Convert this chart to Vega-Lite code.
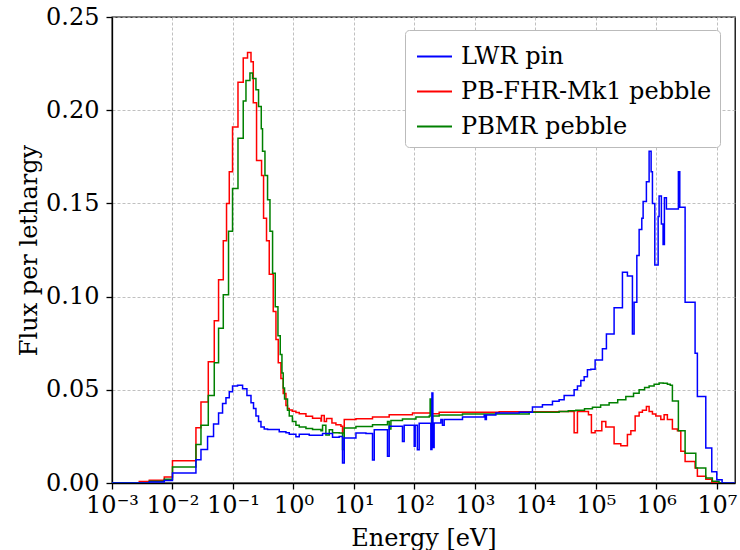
{
 "$schema": "https://vega.github.io/schema/vega-lite/v6.json",
 "width": 623, "height": 466,
 "autosize": "none",
 "padding": {"left": 112, "top": 17, "right": 5, "bottom": 67},
 "background": "white",
 "config": {
   "font": "DejaVu Serif",
   "view": {"stroke": "black", "strokeWidth": 1.3},
   "axis": {"domainColor": "black", "domainWidth": 1.3, "tickColor": "black", "tickWidth": 1.3, "tickSize": 6,
     "labelFont": "DejaVu Serif", "labelFontSize": 24, "labelColor": "black",
     "titleFont": "DejaVu Serif", "titleFontSize": 24, "titleFontWeight": "normal", "titleColor": "black",
     "gridColor": "#b0b0b0", "gridDash": [3, 2], "gridWidth": 0.8}
 },
 "datasets": {
  "flux": [
   {"s":"PB-FHR-Mk1 pebble","E":0.001,"f":0.0002},
   {"s":"PB-FHR-Mk1 pebble","E":0.002825,"f":0.0008},
   {"s":"PB-FHR-Mk1 pebble","E":0.004135,"f":0.0015},
   {"s":"PB-FHR-Mk1 pebble","E":0.00732,"f":0.0032},
   {"s":"PB-FHR-Mk1 pebble","E":0.01,"f":0.012},
   {"s":"PB-FHR-Mk1 pebble","E":0.02443,"f":0.0296},
   {"s":"PB-FHR-Mk1 pebble","E":0.02958,"f":0.0434},
   {"s":"PB-FHR-Mk1 pebble","E":0.03909,"f":0.065},
   {"s":"PB-FHR-Mk1 pebble","E":0.04909,"f":0.087},
   {"s":"PB-FHR-Mk1 pebble","E":0.05781,"f":0.109},
   {"s":"PB-FHR-Mk1 pebble","E":0.0692,"f":0.130},
   {"s":"PB-FHR-Mk1 pebble","E":0.0783,"f":0.150},
   {"s":"PB-FHR-Mk1 pebble","E":0.0869,"f":0.167},
   {"s":"PB-FHR-Mk1 pebble","E":0.0984,"f":0.191},
   {"s":"PB-FHR-Mk1 pebble","E":0.1211,"f":0.215},
   {"s":"PB-FHR-Mk1 pebble","E":0.1479,"f":0.228},
   {"s":"PB-FHR-Mk1 pebble","E":0.1742,"f":0.231},
   {"s":"PB-FHR-Mk1 pebble","E":0.1987,"f":0.226},
   {"s":"PB-FHR-Mk1 pebble","E":0.2168,"f":0.204},
   {"s":"PB-FHR-Mk1 pebble","E":0.2455,"f":0.173},
   {"s":"PB-FHR-Mk1 pebble","E":0.2972,"f":0.165},
   {"s":"PB-FHR-Mk1 pebble","E":0.3206,"f":0.142},
   {"s":"PB-FHR-Mk1 pebble","E":0.3589,"f":0.130},
   {"s":"PB-FHR-Mk1 pebble","E":0.3981,"f":0.112},
   {"s":"PB-FHR-Mk1 pebble","E":0.4634,"f":0.092},
   {"s":"PB-FHR-Mk1 pebble","E":0.514,"f":0.077},
   {"s":"PB-FHR-Mk1 pebble","E":0.561,"f":0.0645},
   {"s":"PB-FHR-Mk1 pebble","E":0.6209,"f":0.056},
   {"s":"PB-FHR-Mk1 pebble","E":0.6776,"f":0.048},
   {"s":"PB-FHR-Mk1 pebble","E":0.7516,"f":0.0416},
   {"s":"PB-FHR-Mk1 pebble","E":0.798,"f":0.0400},
   {"s":"PB-FHR-Mk1 pebble","E":0.853,"f":0.0392},
   {"s":"PB-FHR-Mk1 pebble","E":0.955,"f":0.0385},
   {"s":"PB-FHR-Mk1 pebble","E":1.099,"f":0.0378},
   {"s":"PB-FHR-Mk1 pebble","E":1.247,"f":0.0371},
   {"s":"PB-FHR-Mk1 pebble","E":1.61,"f":0.0358},
   {"s":"PB-FHR-Mk1 pebble","E":2.07,"f":0.0348},
   {"s":"PB-FHR-Mk1 pebble","E":2.85,"f":0.0332},
   {"s":"PB-FHR-Mk1 pebble","E":2.91,"f":0.0362},
   {"s":"PB-FHR-Mk1 pebble","E":3.23,"f":0.0330},
   {"s":"PB-FHR-Mk1 pebble","E":3.52,"f":0.0346},
   {"s":"PB-FHR-Mk1 pebble","E":4.33,"f":0.0322},
   {"s":"PB-FHR-Mk1 pebble","E":5.04,"f":0.0312},
   {"s":"PB-FHR-Mk1 pebble","E":6.10,"f":0.0305},
   {"s":"PB-FHR-Mk1 pebble","E":6.48,"f":0.0268},
   {"s":"PB-FHR-Mk1 pebble","E":6.92,"f":0.0340},
   {"s":"PB-FHR-Mk1 pebble","E":10.8,"f":0.0345},
   {"s":"PB-FHR-Mk1 pebble","E":20.3,"f":0.0354},
   {"s":"PB-FHR-Mk1 pebble","E":38.3,"f":0.0366},
   {"s":"PB-FHR-Mk1 pebble","E":93.1,"f":0.0375},
   {"s":"PB-FHR-Mk1 pebble","E":187,"f":0.0378},
   {"s":"PB-FHR-Mk1 pebble","E":192,"f":0.0372},
   {"s":"PB-FHR-Mk1 pebble","E":257,"f":0.0380},
   {"s":"PB-FHR-Mk1 pebble","E":2523,"f":0.0382},
   {"s":"PB-FHR-Mk1 pebble","E":24720,"f":0.0384},
   {"s":"PB-FHR-Mk1 pebble","E":43750,"f":0.027},
   {"s":"PB-FHR-Mk1 pebble","E":49650,"f":0.0384},
   {"s":"PB-FHR-Mk1 pebble","E":75510,"f":0.0366},
   {"s":"PB-FHR-Mk1 pebble","E":84530,"f":0.027},
   {"s":"PB-FHR-Mk1 pebble","E":97300,"f":0.028},
   {"s":"PB-FHR-Mk1 pebble","E":125600,"f":0.033},
   {"s":"PB-FHR-Mk1 pebble","E":146200,"f":0.030},
   {"s":"PB-FHR-Mk1 pebble","E":200400,"f":0.021},
   {"s":"PB-FHR-Mk1 pebble","E":258800,"f":0.020},
   {"s":"PB-FHR-Mk1 pebble","E":332700,"f":0.026},
   {"s":"PB-FHR-Mk1 pebble","E":379300,"f":0.028},
   {"s":"PB-FHR-Mk1 pebble","E":446700,"f":0.036},
   {"s":"PB-FHR-Mk1 pebble","E":520000,"f":0.038},
   {"s":"PB-FHR-Mk1 pebble","E":588800,"f":0.039},
   {"s":"PB-FHR-Mk1 pebble","E":685500,"f":0.041},
   {"s":"PB-FHR-Mk1 pebble","E":760300,"f":0.0384},
   {"s":"PB-FHR-Mk1 pebble","E":862900,"f":0.037},
   {"s":"PB-FHR-Mk1 pebble","E":981700,"f":0.036},
   {"s":"PB-FHR-Mk1 pebble","E":1186000,"f":0.034},
   {"s":"PB-FHR-Mk1 pebble","E":1346000,"f":0.0366},
   {"s":"PB-FHR-Mk1 pebble","E":1524000,"f":0.034},
   {"s":"PB-FHR-Mk1 pebble","E":1845000,"f":0.029},
   {"s":"PB-FHR-Mk1 pebble","E":2233000,"f":0.028},
   {"s":"PB-FHR-Mk1 pebble","E":2541000,"f":0.017},
   {"s":"PB-FHR-Mk1 pebble","E":2992000,"f":0.0116},
   {"s":"PB-FHR-Mk1 pebble","E":4375000,"f":0.008},
   {"s":"PB-FHR-Mk1 pebble","E":4775000,"f":0.0036},
   {"s":"PB-FHR-Mk1 pebble","E":6577000,"f":0.002},
   {"s":"PB-FHR-Mk1 pebble","E":8260000,"f":0.0},
   {"s":"PB-FHR-Mk1 pebble","E":20000000,"f":0.0},

   {"s":"PBMR pebble","E":0.001,"f":0.0001},
   {"s":"PBMR pebble","E":0.004135,"f":0.001},
   {"s":"PBMR pebble","E":0.00732,"f":0.002},
   {"s":"PBMR pebble","E":0.01,"f":0.0086},
   {"s":"PBMR pebble","E":0.02443,"f":0.0206},
   {"s":"PBMR pebble","E":0.02958,"f":0.031},
   {"s":"PBMR pebble","E":0.03909,"f":0.047},
   {"s":"PBMR pebble","E":0.04909,"f":0.0645},
   {"s":"PBMR pebble","E":0.05781,"f":0.083},
   {"s":"PBMR pebble","E":0.0692,"f":0.101},
   {"s":"PBMR pebble","E":0.0845,"f":0.135},
   {"s":"PBMR pebble","E":0.0984,"f":0.158},
   {"s":"PBMR pebble","E":0.1211,"f":0.185},
   {"s":"PBMR pebble","E":0.1479,"f":0.205},
   {"s":"PBMR pebble","E":0.1641,"f":0.216},
   {"s":"PBMR pebble","E":0.191,"f":0.220},
   {"s":"PBMR pebble","E":0.2109,"f":0.217},
   {"s":"PBMR pebble","E":0.2399,"f":0.211},
   {"s":"PBMR pebble","E":0.2649,"f":0.202},
   {"s":"PBMR pebble","E":0.2938,"f":0.190},
   {"s":"PBMR pebble","E":0.3083,"f":0.178},
   {"s":"PBMR pebble","E":0.3381,"f":0.165},
   {"s":"PBMR pebble","E":0.3733,"f":0.152},
   {"s":"PBMR pebble","E":0.4093,"f":0.135},
   {"s":"PBMR pebble","E":0.4519,"f":0.1125},
   {"s":"PBMR pebble","E":0.5,"f":0.0946},
   {"s":"PBMR pebble","E":0.5546,"f":0.079},
   {"s":"PBMR pebble","E":0.6053,"f":0.069},
   {"s":"PBMR pebble","E":0.6457,"f":0.059},
   {"s":"PBMR pebble","E":0.6776,"f":0.051},
   {"s":"PBMR pebble","E":0.7129,"f":0.045},
   {"s":"PBMR pebble","E":0.798,"f":0.039},
   {"s":"PBMR pebble","E":0.853,"f":0.036},
   {"s":"PBMR pebble","E":0.96,"f":0.033},
   {"s":"PBMR pebble","E":1.099,"f":0.031},
   {"s":"PBMR pebble","E":1.247,"f":0.030},
   {"s":"PBMR pebble","E":1.61,"f":0.0293},
   {"s":"PBMR pebble","E":2.07,"f":0.0287},
   {"s":"PBMR pebble","E":2.85,"f":0.0280},
   {"s":"PBMR pebble","E":3.03,"f":0.031},
   {"s":"PBMR pebble","E":3.44,"f":0.0258},
   {"s":"PBMR pebble","E":3.91,"f":0.0286},
   {"s":"PBMR pebble","E":4.43,"f":0.027},
   {"s":"PBMR pebble","E":5.71,"f":0.0268},
   {"s":"PBMR pebble","E":6.48,"f":0.018},
   {"s":"PBMR pebble","E":6.92,"f":0.0295},
   {"s":"PBMR pebble","E":10.8,"f":0.0303},
   {"s":"PBMR pebble","E":20.3,"f":0.0313},
   {"s":"PBMR pebble","E":35.9,"f":0.033},
   {"s":"PBMR pebble","E":38.3,"f":0.029},
   {"s":"PBMR pebble","E":40.9,"f":0.0335},
   {"s":"PBMR pebble","E":63.5,"f":0.0343},
   {"s":"PBMR pebble","E":106,"f":0.0354},
   {"s":"PBMR pebble","E":176,"f":0.036},
   {"s":"PBMR pebble","E":182,"f":0.045},
   {"s":"PBMR pebble","E":192,"f":0.029},
   {"s":"PBMR pebble","E":199,"f":0.036},
   {"s":"PBMR pebble","E":257,"f":0.0365},
   {"s":"PBMR pebble","E":624,"f":0.037},
   {"s":"PBMR pebble","E":7907,"f":0.038},
   {"s":"PBMR pebble","E":24720,"f":0.0384},
   {"s":"PBMR pebble","E":35000,"f":0.0387},
   {"s":"PBMR pebble","E":46670,"f":0.039},
   {"s":"PBMR pebble","E":65000,"f":0.0398},
   {"s":"PBMR pebble","E":87900,"f":0.0407},
   {"s":"PBMR pebble","E":120000,"f":0.0418},
   {"s":"PBMR pebble","E":165900,"f":0.043},
   {"s":"PBMR pebble","E":230000,"f":0.0447},
   {"s":"PBMR pebble","E":313300,"f":0.0464},
   {"s":"PBMR pebble","E":420000,"f":0.0482},
   {"s":"PBMR pebble","E":520000,"f":0.050},
   {"s":"PBMR pebble","E":640000,"f":0.0512},
   {"s":"PBMR pebble","E":760300,"f":0.052},
   {"s":"PBMR pebble","E":920000,"f":0.053},
   {"s":"PBMR pebble","E":1112000,"f":0.0536},
   {"s":"PBMR pebble","E":1300000,"f":0.0535},
   {"s":"PBMR pebble","E":1524000,"f":0.053},
   {"s":"PBMR pebble","E":1700000,"f":0.0525},
   {"s":"PBMR pebble","E":1845000,"f":0.044},
   {"s":"PBMR pebble","E":2317000,"f":0.028},
   {"s":"PBMR pebble","E":2992000,"f":0.016},
   {"s":"PBMR pebble","E":4498000,"f":0.008},
   {"s":"PBMR pebble","E":6577000,"f":0.0027},
   {"s":"PBMR pebble","E":8450000,"f":0.0009},
   {"s":"PBMR pebble","E":10900000,"f":0.0},
   {"s":"PBMR pebble","E":20000000,"f":0.0},

   {"s":"LWR pin","E":0.001,"f":0.0},
   {"s":"LWR pin","E":0.004135,"f":0.0005},
   {"s":"LWR pin","E":0.00732,"f":0.0014},
   {"s":"LWR pin","E":0.01,"f":0.0054},
   {"s":"LWR pin","E":0.02443,"f":0.0125},
   {"s":"LWR pin","E":0.02958,"f":0.018},
   {"s":"LWR pin","E":0.03802,"f":0.025},
   {"s":"LWR pin","E":0.04775,"f":0.0317},
   {"s":"LWR pin","E":0.05781,"f":0.0376},
   {"s":"LWR pin","E":0.0673,"f":0.0427},
   {"s":"LWR pin","E":0.0766,"f":0.0457},
   {"s":"LWR pin","E":0.0869,"f":0.049},
   {"s":"LWR pin","E":0.0984,"f":0.052},
   {"s":"LWR pin","E":0.1191,"f":0.0525},
   {"s":"LWR pin","E":0.1443,"f":0.0505},
   {"s":"LWR pin","E":0.1702,"f":0.047},
   {"s":"LWR pin","E":0.1987,"f":0.043},
   {"s":"LWR pin","E":0.2188,"f":0.040},
   {"s":"LWR pin","E":0.2399,"f":0.036},
   {"s":"LWR pin","E":0.2649,"f":0.033},
   {"s":"LWR pin","E":0.2904,"f":0.030},
   {"s":"LWR pin","E":0.3289,"f":0.029},
   {"s":"LWR pin","E":0.3733,"f":0.0287},
   {"s":"LWR pin","E":0.5821,"f":0.0275},
   {"s":"LWR pin","E":0.7516,"f":0.0269},
   {"s":"LWR pin","E":0.853,"f":0.0262},
   {"s":"LWR pin","E":1.099,"f":0.0248},
   {"s":"LWR pin","E":1.247,"f":0.0262},
   {"s":"LWR pin","E":1.824,"f":0.0256},
   {"s":"LWR pin","E":3.03,"f":0.0266},
   {"s":"LWR pin","E":4.43,"f":0.0246},
   {"s":"LWR pin","E":5.71,"f":0.025},
   {"s":"LWR pin","E":6.48,"f":0.0107},
   {"s":"LWR pin","E":6.92,"f":0.0241},
   {"s":"LWR pin","E":10.8,"f":0.0268},
   {"s":"LWR pin","E":15.8,"f":0.0265},
   {"s":"LWR pin","E":20.3,"f":0.0124},
   {"s":"LWR pin","E":21.7,"f":0.0286},
   {"s":"LWR pin","E":35.9,"f":0.0143},
   {"s":"LWR pin","E":38.3,"f":0.0304},
   {"s":"LWR pin","E":63.5,"f":0.0223},
   {"s":"LWR pin","E":67.8,"f":0.031},
   {"s":"LWR pin","E":99.3,"f":0.0197},
   {"s":"LWR pin","E":103,"f":0.031},
   {"s":"LWR pin","E":112,"f":0.0179},
   {"s":"LWR pin","E":120,"f":0.032},
   {"s":"LWR pin","E":187,"f":0.018},
   {"s":"LWR pin","E":195,"f":0.0483},
   {"s":"LWR pin","E":202,"f":0.019},
   {"s":"LWR pin","E":212,"f":0.0322},
   {"s":"LWR pin","E":274,"f":0.034},
   {"s":"LWR pin","E":291,"f":0.031},
   {"s":"LWR pin","E":311,"f":0.034},
   {"s":"LWR pin","E":624,"f":0.0354},
   {"s":"LWR pin","E":1426,"f":0.0365},
   {"s":"LWR pin","E":1479,"f":0.034},
   {"s":"LWR pin","E":1550,"f":0.0365},
   {"s":"LWR pin","E":2223,"f":0.0376},
   {"s":"LWR pin","E":5395,"f":0.038},
   {"s":"LWR pin","E":8954,"f":0.0408},
   {"s":"LWR pin","E":13090,"f":0.042},
   {"s":"LWR pin","E":19190,"f":0.0438},
   {"s":"LWR pin","E":24720,"f":0.0446},
   {"s":"LWR pin","E":29920,"f":0.047},
   {"s":"LWR pin","E":43750,"f":0.050},
   {"s":"LWR pin","E":49650,"f":0.052},
   {"s":"LWR pin","E":56490,"f":0.055},
   {"s":"LWR pin","E":64120,"f":0.057},
   {"s":"LWR pin","E":72610,"f":0.0607},
   {"s":"LWR pin","E":82600,"f":0.061},
   {"s":"LWR pin","E":97300,"f":0.066},
   {"s":"LWR pin","E":128500,"f":0.072},
   {"s":"LWR pin","E":149600,"f":0.080},
   {"s":"LWR pin","E":200400,"f":0.094},
   {"s":"LWR pin","E":275400,"f":0.113},
   {"s":"LWR pin","E":332700,"f":0.111},
   {"s":"LWR pin","E":402700,"f":0.080},
   {"s":"LWR pin","E":429500,"f":0.097},
   {"s":"LWR pin","E":476400,"f":0.122},
   {"s":"LWR pin","E":520000,"f":0.136},
   {"s":"LWR pin","E":575400,"f":0.142},
   {"s":"LWR pin","E":605300,"f":0.151},
   {"s":"LWR pin","E":685500,"f":0.1616},
   {"s":"LWR pin","E":760300,"f":0.178},
   {"s":"LWR pin","E":820400,"f":0.167},
   {"s":"LWR pin","E":862900,"f":0.150},
   {"s":"LWR pin","E":944100,"f":0.117},
   {"s":"LWR pin","E":1072000,"f":0.143},
   {"s":"LWR pin","E":1112000,"f":0.154},
   {"s":"LWR pin","E":1213000,"f":0.139},
   {"s":"LWR pin","E":1294000,"f":0.128},
   {"s":"LWR pin","E":1361000,"f":0.153},
   {"s":"LWR pin","E":1469000,"f":0.147},
   {"s":"LWR pin","E":2317000,"f":0.167},
   {"s":"LWR pin","E":2443000,"f":0.148},
   {"s":"LWR pin","E":2992000,"f":0.097},
   {"s":"LWR pin","E":4375000,"f":0.0696},
   {"s":"LWR pin","E":4775000,"f":0.0464},
   {"s":"LWR pin","E":6577000,"f":0.0188},
   {"s":"LWR pin","E":8260000,"f":0.006},
   {"s":"LWR pin","E":10000000,"f":0.0018},
   {"s":"LWR pin","E":12240000,"f":0.0},
   {"s":"LWR pin","E":20000000,"f":0.0}
  ]
 },
 "data": {"name": "flux"},
 "mark": {"type": "line", "interpolate": "step-after", "strokeWidth": 1.5, "clip": true},
 "encoding": {
   "x": {"field": "E", "type": "quantitative",
     "scale": {"type": "log", "domain": [0.001, 20000000]},
     "axis": {"title": "Energy [eV]", "values": [0.001, 0.01, 0.1, 1, 10, 100, 1000, 10000, 100000, 1000000, 10000000],
       "labelExpr": "'10' + (datum.value < 0.5 ? '⁻' : '') + ['⁰','¹','²','³','⁴','⁵','⁶','⁷','⁸','⁹'][abs(round(log(datum.value)/LN10))]",
       "labelFlush": false, "labelOverlap": false, "labelPadding": 4, "titlePadding": 9}},
   "y": {"field": "f", "type": "quantitative",
     "scale": {"domain": [0, 0.25]},
     "axis": {"title": "Flux per lethargy", "values": [0, 0.05, 0.1, 0.15, 0.2, 0.25], "format": ".2f", "labelPadding": 7, "titlePadding": 4}},
   "color": {"field": "s", "type": "nominal",
     "scale": {"domain": ["LWR pin", "PB-FHR-Mk1 pebble", "PBMR pebble"], "range": ["#0000ff", "#ff0000", "#008000"]},
     "legend": {"title": null, "orient": "none", "legendX": 293, "legendY": 13,
       "symbolType": "stroke", "symbolSize": 1225, "symbolStrokeWidth": 2, "symbolOffset": 3,
       "labelFont": "DejaVu Serif", "labelFontSize": 24, "labelColor": "black", "labelOffset": 8, "labelLimit": 400,
       "rowPadding": 4, "padding": 8, "strokeColor": "#bbbbbb", "fillColor": "white", "cornerRadius": 4}}
 }
}
